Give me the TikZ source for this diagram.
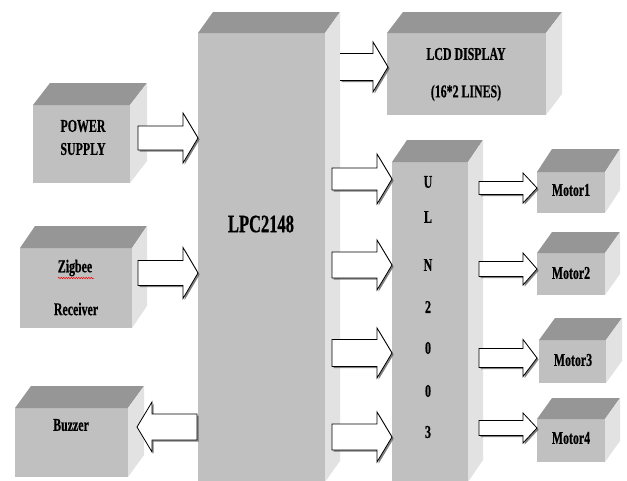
\documentclass[tikz,border=0pt]{standalone}
\usepackage{fontspec}
\newfontfamily\cf[FakeStretch=0.66,FakeBold=0.6]{Liberation Serif}
\usetikzlibrary{shadows,decorations.pathmorphing}
\definecolor{frontc}{RGB}{192,192,192}
\definecolor{topc}{RGB}{150,150,150}
\definecolor{sidec}{RGB}{226,226,226}
\tikzset{
  frontface/.style={fill=frontc,draw=none,inner sep=0pt,outer sep=0pt},
  topface/.style={fill=topc},
  sideface/.style={fill=sidec},
  barrowstyle/.style={fill=white,draw=black,line width=0.8pt,line join=miter,
     drop shadow={shadow xshift=1.6pt,shadow yshift=-1.6pt,opacity=0.7,fill=black!70}},
  lbl/.style={font=\cf\bfseries\fontsize{18}{20}\selectfont,inner sep=0pt},
  biglbl/.style={font=\cf\bfseries\fontsize{25}{28}\selectfont,inner sep=0pt}
}
% cuboid: name, x1, y1, x2, y2, dx, dy
\newcommand\mycub[7]{%
  \node[frontface,minimum width={(#4-#2)*1pt},minimum height={(#5-#3)*1pt}] (#1) at ({(#2+#4)/2},{(#3+#5)/2}) {};
  \fill[topface] (#1.north west) -- ([shift={(#6,-#7)}]#1.north west) -- ([shift={(#6,-#7)}]#1.north east) -- (#1.north east) -- cycle;
  \fill[sideface] (#1.north east) -- ([shift={(#6,-#7)}]#1.north east) -- ([shift={(#6,-#7)}]#1.south east) -- (#1.south east) -- cycle;
}
% block arrow: x0, x1(tip), y, body half, head half, head length
\newcommand\myarrow[6]{%
  \draw[barrowstyle] (#1,#3-#4) -- ({#2-(#6)},#3-#4) -- ({#2-(#6)},#3-#5) -- (#2,#3) -- ({#2-(#6)},#3+#5) -- ({#2-(#6)},#3+#4) -- (#1,#3+#4) -- cycle;
}
% open-ended block arrow (no back edge)
\newcommand\myarrowopen[6]{%
  \fill[white,drop shadow={shadow xshift=1.6pt,shadow yshift=-1.6pt,opacity=0.7,fill=black!70}] (#1,#3-#4) -- ({#2-(#6)},#3-#4) -- ({#2-(#6)},#3-#5) -- (#2,#3) -- ({#2-(#6)},#3+#5) -- ({#2-(#6)},#3+#4) -- (#1,#3+#4) -- cycle;
  \draw[black,line width=0.8pt,line join=miter] (#1,#3-#4) -- ({#2-(#6)},#3-#4) -- ({#2-(#6)},#3-#5) -- (#2,#3) -- ({#2-(#6)},#3+#5) -- ({#2-(#6)},#3+#4) -- (#1,#3+#4);
}
\begin{document}
\begin{tikzpicture}[x=1pt,y=-1pt]
\useasboundingbox (0,0) rectangle (627,480);
% blocks
\mycub{lpc}{198}{33}{325}{482}{15}{21}
\mycub{lcd}{387}{33}{546}{115}{16}{21}
\mycub{uln}{392}{162}{468}{482}{15}{22}
\mycub{mone}{537}{172}{605}{213}{15}{23}
\mycub{mtwo}{537}{253}{605}{295}{15}{21}
\mycub{mthree}{539}{340}{606}{383}{16}{22}
\mycub{mfour}{537}{419}{605}{462}{15}{21}
\mycub{pwr}{33}{105}{130}{183}{17}{22}
\mycub{zig}{20}{248}{132}{328}{15}{22}
\mycub{buz}{15}{408}{128}{477}{16}{22}
% arrows
\myarrow{138}{198}{138}{12}{25}{15}
\myarrow{138}{198}{273}{12.5}{25.5}{15}
\myarrow{197}{137}{427}{13}{25}{-15}
\myarrowopen{340}{388}{67}{13.5}{25}{15}
\myarrow{332}{392}{179}{11}{25}{15}
\myarrow{332}{392}{265}{13}{25}{15}
\myarrow{332}{392}{353}{13.5}{25}{15}
\myarrow{332}{392}{437}{13}{25}{15}
\myarrow{479}{537}{188}{6.5}{15}{14}
\myarrow{479}{537}{269}{7.5}{16}{14}
\myarrow{479}{537}{358}{9.5}{18.5}{14}
\myarrow{479}{537}{428}{7.5}{15}{14}
% labels
\node[lbl] (tpw1) at (83,126) {POWER};
\node[lbl] (tpw2) at (83,149) {SUPPLY};
\node[lbl] (tzg1) at (75,268) {Zigbee};
\node[lbl] (tzg2) at (76,309) {Receiver};
\draw[red,line width=0.5pt,decorate,decoration={snake,amplitude=0.7pt,segment length=2.5pt}] (58,278) -- (94,278);
\node[lbl] (tbz) at (71,425) {Buzzer};
\node[biglbl] (tlpc) at (261,224) {LPC2148};
\node[lbl] (tlcd1) at (466,54) {LCD DISPLAY};
\node[lbl] (tlcd2) at (466,93) {(16*2 LINES)};
\foreach \ch/\yy/\nm in {U/182/ua,L/217/ub,N/265/uc,2/307/ud,0/348/ue,0/391/uf,3/432/ug}
  \node[lbl] (\nm) at (428,\yy) {\ch};
\node[lbl] (tm1) at (571,190) {Motor1};
\node[lbl] (tm2) at (571,273) {Motor2};
\node[lbl] (tm3) at (573,360) {Motor3};
\node[lbl] (tm4) at (571,438) {Motor4};
\end{tikzpicture}
\end{document}
